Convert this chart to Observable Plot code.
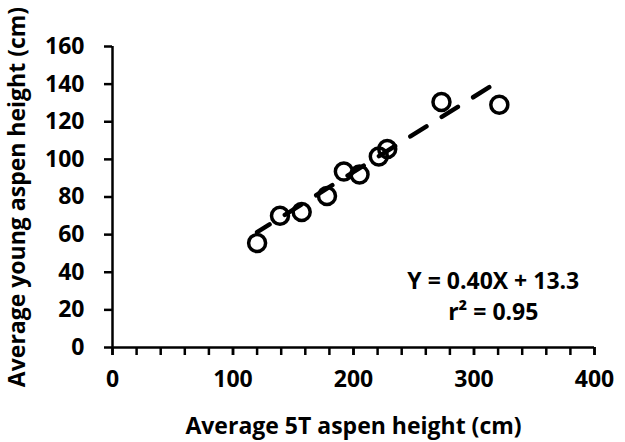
<!DOCTYPE html>
<html><head><meta charset="utf-8">
<script src="https://cdn.jsdelivr.net/npm/d3@7"></script>
<script src="https://cdn.jsdelivr.net/npm/@observablehq/plot@0.6"></script>
<style>body{margin:0;background:#fff}</style>
</head><body><div id="chart"></div>
<script>
// Data
const x5T    = [120, 139, 157, 178, 192, 205, 221, 228, 273, 321];
const yYoung = [55.5, 70, 72, 80.5, 93.5, 92, 101.5, 105.5, 130.5, 129];
const xMajorTicks = [0, 100, 200, 300, 400];
const xMinorTicks = d3.range(0, 401, 20);
const yTicks = [0, 20, 40, 60, 80, 100, 120, 140, 160];
const slope = 0.40, intercept = 13.3, r2 = 0.95;
const eqLine1 = "Y = 0.40X + 13.3";
const eqLine2 = "r\u00B2 = 0.95";
const eqX = 316, eqY1 = 34.8, eqY2 = 18.5;

const pts = x5T.map((x, i) => ({x, y: yYoung[i]}));
const xMin = d3.min(x5T), xMax = d3.max(x5T);
const fitLine = [xMin, xMax].map(x => ({x, y: slope * x + intercept}));
const FONT = "Open Sans";
const FS = 23;

const chart = Plot.plot({
  width: 625, height: 442,
  marginLeft: 112, marginRight: 31, marginTop: 46, marginBottom: 95,
  style: {fontFamily: FONT, background: "#fff", color: "#000"},
  x: {domain: [0, 400]},
  y: {domain: [0, 160]},
  marks: [
    Plot.axisX(xMinorTicks, {tickSize: 8, tickFormat: () => "", strokeWidth: 2.5, label: null}),
    Plot.axisX(xMajorTicks, {tickSize: 8, tickPadding: 15, strokeWidth: 2.5,
      fontSize: FS, fontWeight: "bold", fontFamily: FONT,
      label: "Average 5T aspen height (cm)", labelAnchor: "center", labelOffset: 86, labelArrow: "none"}),
    Plot.axisY(yTicks, {tickSize: 8, tickPadding: 20, strokeWidth: 2.5,
      fontSize: FS, fontWeight: "bold", fontFamily: FONT,
      label: "Average young aspen height (cm)", labelAnchor: "center", labelOffset: 104, labelArrow: "none"}),
    Plot.ruleY([0], {stroke: "#000", strokeWidth: 2.5}),
    Plot.ruleX([0], {stroke: "#000", strokeWidth: 2.5}),
    Plot.line(fitLine, {x: "x", y: "y", stroke: "#000", strokeWidth: 4.5,
      strokeDasharray: "19,18", strokeDashoffset: 4.3}),
    Plot.dot(pts, {x: "x", y: "y", r: 8.5, stroke: "#000", strokeWidth: 3.5, fill: "none"}),
    Plot.text([eqLine1], {x: () => eqX, y: () => eqY1, text: d => d,
      fontSize: FS, fontWeight: "bold", fontFamily: FONT, fill: "#000"}),
    Plot.text([eqLine2], {x: () => eqX, y: () => eqY2, text: d => d,
      fontSize: FS, fontWeight: "bold", fontFamily: FONT, fill: "#000"})
  ]
});
document.getElementById("chart").appendChild(chart);
</script>
</body></html>
